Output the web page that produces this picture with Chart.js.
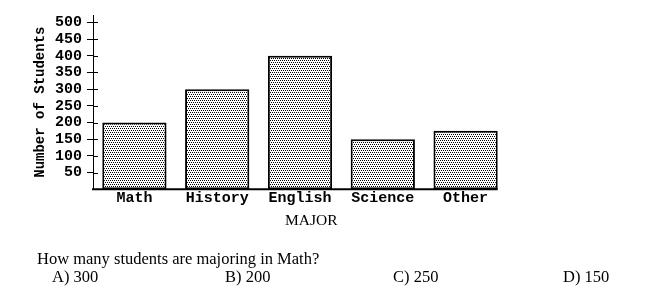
<!DOCTYPE html>
<html><head><meta charset="utf-8">
<script src="https://cdn.jsdelivr.net/npm/chart.js@4"></script>
<style>
html,body{margin:0;padding:0;background:#fff;}
#wrap{position:relative;width:650px;height:288px;overflow:hidden;background:#fff;}
canvas{position:absolute;left:0;top:0;}
.t{position:absolute;font-family:"Liberation Serif",serif;line-height:1;white-space:nowrap;color:#000;}
</style></head><body>
<div id="wrap">
<canvas id="c" width="650" height="288"></canvas>
<div class="t" id="xtitle" style="left:285px;top:212px;font-size:15.5px"></div>
<div class="t" id="question" style="left:37px;top:251px;font-size:16.5px"></div>
<div id="choices"></div>
</div>
<script>
const categories = ['Math', 'History', 'English', 'Science', 'Other'];
const students = [200, 300, 400, 150, 175];
const yTickValues = [50, 100, 150, 200, 250, 300, 350, 400, 450, 500];
const xAxisTitle = 'MAJOR';
const yAxisTitle = 'Number of Students';
const questionText = 'How many students are majoring in Math?';
const choiceLabels = ['A) 300', 'B) 200', 'C) 250', 'D) 150'];
const choiceLeft = [52, 225, 393, 563];

document.getElementById('xtitle').textContent = xAxisTitle;
document.getElementById('question').textContent = questionText;
const chWrap = document.getElementById('choices');
choiceLabels.forEach((s, i) => {
  const d = document.createElement('div');
  d.className = 't';
  d.style.left = choiceLeft[i] + 'px';
  d.style.top = '269px';
  d.style.fontSize = '16.5px';
  d.textContent = s;
  chWrap.appendChild(d);
});

const canvas = document.getElementById('c');
const ctx = canvas.getContext('2d');
function makePattern() {
  const p = document.createElement('canvas');
  p.width = 4; p.height = 4;
  const g = p.getContext('2d');
  g.fillStyle = '#fff'; g.fillRect(0, 0, 4, 4);
  g.fillStyle = '#000';
  [[0,0],[2,0],[1,2],[3,2]].forEach(([x,y]) => g.fillRect(x, y, 1, 1));
  return ctx.createPattern(p, 'repeat');
}

const axisDeco = {
  id: 'axisDeco',
  afterDraw(chart) {
    const c = chart.ctx, ys = chart.scales.y, area = chart.chartArea;
    c.save();
    c.strokeStyle = '#000';
    c.lineWidth = 1;
    ys.ticks.forEach(t => {
      const y = Math.round(ys.getPixelForValue(t.value)) + 0.5;
      c.beginPath(); c.moveTo(area.left, y); c.lineTo(area.left + 5, y); c.stroke();
    });
    const meta = chart.getDatasetMeta(0);
    const last = meta.data[meta.data.length - 1];
    const right = last.x + last.width / 2;
    const y0 = ys.getPixelForValue(0);
    c.lineWidth = 2;
    c.beginPath(); c.moveTo(area.left - 1, y0); c.lineTo(right, y0); c.stroke();
    c.restore();
  }
};

new Chart(canvas, {
  type: 'bar',
  data: {
    labels: categories,
    datasets: [{
      data: students,
      backgroundColor: makePattern(),
      borderColor: '#000',
      borderWidth: 2,
      borderSkipped: false,
      barPercentage: 0.776,
      categoryPercentage: 1
    }]
  },
  options: {
    responsive: false,
    devicePixelRatio: 1,
    animation: false,
    layout: { padding: { top: 15, left: 0, right: 143, bottom: 0 } },
    plugins: { legend: { display: false }, tooltip: { enabled: false } },
    scales: {
      x: {
        grid: { display: false, drawTicks: false },
        border: { display: false },
        ticks: {
          color: '#000',
          padding: 0,
          autoSkip: false,
          maxRotation: 0,
          font: { family: 'Liberation Mono', weight: 'bold', size: 15 }
        },
        afterFit(s) { s.height = 288 - 189.3; }
      },
      y: {
        min: 0,
        max: 522,
        afterBuildTicks(axis) { axis.ticks = yTickValues.map(v => ({ value: v })); },
        grid: { display: true, drawOnChartArea: false, drawTicks: true, tickLength: 6, color: '#000', lineWidth: 1 },
        border: { display: true, color: '#000', width: 1 },
        ticks: {
          color: '#000',
          padding: 5,
          autoSkip: false,
          font: { family: 'Liberation Mono', weight: 'bold', size: 15 }
        },
        title: {
          display: true,
          text: yAxisTitle,
          color: '#000',
          padding: { top: 32, bottom: 0 },
          font: { family: 'Liberation Mono', weight: 'bold', size: 14 }
        },
        afterFit(s) { s.width = 93; }
      }
    }
  },
  plugins: [axisDeco]
});
</script>
</body></html>
